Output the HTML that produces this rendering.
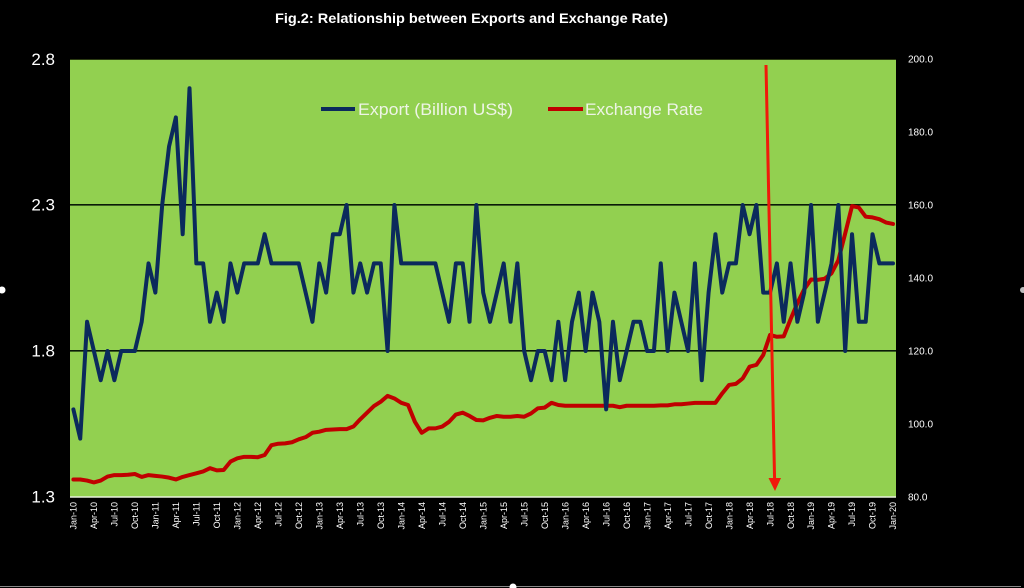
<!DOCTYPE html>
<html><head><meta charset="utf-8"><style>
html,body{margin:0;padding:0;background:#000;}
svg{display:block;}
</style></head><body>
<svg width="1024" height="588" viewBox="0 0 1024 588" xmlns="http://www.w3.org/2000/svg">
<rect x="0" y="0" width="1024" height="588" fill="#000"/>
<!-- title -->
<text x="275" y="23" fill="#ffffff" font-family="Liberation Sans, sans-serif" font-weight="bold" font-size="14" textLength="393" lengthAdjust="spacingAndGlyphs">Fig.2: Relationship between Exports and Exchange Rate)</text>
<!-- plot area -->
<rect x="70" y="59" width="826" height="438" fill="#92d050"/>
<line x1="70" y1="59.5" x2="896" y2="59.5" stroke="#2a3a10" stroke-width="1"/>
<line x1="70" y1="497" x2="896" y2="497" stroke="#e8f0dc" stroke-width="1.5"/>
<line x1="70" y1="204.8" x2="896" y2="204.8" stroke="#0a1a08" stroke-width="1.6"/>
<line x1="70" y1="350.8" x2="896" y2="350.8" stroke="#0a1a08" stroke-width="1.6"/>
<!-- left axis labels -->
<g font-family="Liberation Sans, sans-serif" font-size="17" fill="#ffffff" text-anchor="end">
<text x="55" y="65">2.8</text>
<text x="55" y="210.5">2.3</text>
<text x="55" y="356.5">1.8</text>
<text x="55" y="502.5">1.3</text>
</g>
<!-- right axis labels -->
<g font-family="Liberation Sans, sans-serif" font-size="10" fill="#ffffff">
<text x="908" y="62.5">200.0</text>
<text x="908" y="135.5">180.0</text>
<text x="908" y="208.5">160.0</text>
<text x="908" y="281.5">140.0</text>
<text x="908" y="354.5">120.0</text>
<text x="908" y="427.5">100.0</text>
<text x="908" y="500.5">80.0</text>
</g>
<!-- exchange rate series -->
<polyline transform="matrix(6.83,0,0,-3.65,73.4,789)" vector-effect="non-scaling-stroke" fill="none" stroke="#c00000" stroke-width="4" stroke-linejoin="round" stroke-linecap="round"
points="0,84.8 1,84.8 2,84.5 3,84.0 4,84.5 5,85.6 6,86 7,86 8,86.1 9,86.3 10,85.5 11,86 12,85.8 13,85.6 14,85.3 15,84.8 16,85.5 17,86 18,86.5 19,87 20,87.9 21,87.3 22,87.4 23,89.7 24,90.6 25,91 26,91 27,90.9 28,91.5 29,94.2 30,94.6 31,94.7 32,95 33,95.8 34,96.4 35,97.6 36,97.9 37,98.4 38,98.5 39,98.6 40,98.6 41,99.3 42,101.3 43,103.1 44,104.9 45,106.1 46,107.7 47,107 48,105.8 49,105.2 50,100.6 51,97.6 52,98.8 53,98.8 54,99.3 55,100.6 56,102.6 57,103.1 58,102.2 59,101.1 60,101.0 61,101.7 62,102.2 63,102.0 64,102.0 65,102.2 66,102 67,102.9 68,104.3 69,104.5 70,105.8 71,105.2 72,105 73,105 74,105 75,105 76,105 77,105 78,105 79,105 80,104.6 81,105 82,105 83,105 84,105 85,105 86,105.1 87,105.1 88,105.4 89,105.4 90,105.6 91,105.8 92,105.8 93,105.8 94,105.8 95,108.4 96,110.7 97,111 98,112.5 99,115.7 100,116.2 101,118.9 102,124.4 103,123.9 104,124 105,128.7 106,133.1 107,136.9 108,139.6 109,139.5 110,139.8 111,141.3 112,144.9 113,152.2 114,159.7 115,159.3 116,156.8 117,156.6 118,156.1 119,155.2 120,154.8"/>
<!-- export series -->
<polyline transform="matrix(6.83,0,0,-292,73.4,876.6)" vector-effect="non-scaling-stroke" fill="none" stroke="#0b2a5c" stroke-width="4" stroke-linejoin="round" stroke-linecap="round"
points="0,1.6 1,1.5 2,1.9 3,1.8 4,1.7 5,1.8 6,1.7 7,1.8 8,1.8 9,1.8 10,1.9 11,2.1 12,2.0 13,2.3 14,2.5 15,2.6 16,2.2 17,2.7 18,2.1 19,2.1 20,1.9 21,2.0 22,1.9 23,2.1 24,2.0 25,2.1 26,2.1 27,2.1 28,2.2 29,2.1 30,2.1 31,2.1 32,2.1 33,2.1 34,2.0 35,1.9 36,2.1 37,2.0 38,2.2 39,2.2 40,2.3 41,2.0 42,2.1 43,2.0 44,2.1 45,2.1 46,1.8 47,2.3 48,2.1 49,2.1 50,2.1 51,2.1 52,2.1 53,2.1 54,2.0 55,1.9 56,2.1 57,2.1 58,1.9 59,2.3 60,2.0 61,1.9 62,2.0 63,2.1 64,1.9 65,2.1 66,1.8 67,1.7 68,1.8 69,1.8 70,1.7 71,1.9 72,1.7 73,1.9 74,2.0 75,1.8 76,2.0 77,1.9 78,1.6 79,1.9 80,1.7 81,1.8 82,1.9 83,1.9 84,1.8 85,1.8 86,2.1 87,1.8 88,2.0 89,1.9 90,1.8 91,2.1 92,1.7 93,2.0 94,2.2 95,2.0 96,2.1 97,2.1 98,2.3 99,2.2 100,2.3 101,2.0 102,2.0 103,2.1 104,1.9 105,2.1 106,1.9 107,2.0 108,2.3 109,1.9 110,2.0 111,2.1 112,2.3 113,1.8 114,2.2 115,1.9 116,1.9 117,2.2 118,2.1 119,2.1 120,2.1"/>
<!-- red arrow -->
<line x1="766" y1="65" x2="774.6" y2="480" stroke="#f0190a" stroke-width="3"/>
<polygon points="768.5,478 781,478 775,491" fill="#f0190a"/>
<!-- legend -->
<line x1="321" y1="109" x2="355" y2="109" stroke="#0b2a5c" stroke-width="4"/>
<text x="358" y="115" fill="#eef4e6" font-family="Liberation Sans, sans-serif" font-size="17" textLength="155" lengthAdjust="spacingAndGlyphs">Export (Billion US$)</text>
<line x1="548" y1="109" x2="583" y2="109" stroke="#c00000" stroke-width="4"/>
<text x="585" y="115" fill="#eef4e6" font-family="Liberation Sans, sans-serif" font-size="17" textLength="118" lengthAdjust="spacingAndGlyphs">Exchange Rate</text>
<!-- x axis labels -->
<g font-family="Liberation Sans, sans-serif" font-size="9" fill="#ffffff" text-anchor="end">
<text transform="translate(73.4,502) rotate(-90)" dy="0.35em">Jan-10</text>
<text transform="translate(93.9,502) rotate(-90)" dy="0.35em">Apr-10</text>
<text transform="translate(114.4,502) rotate(-90)" dy="0.35em">Jul-10</text>
<text transform="translate(134.9,502) rotate(-90)" dy="0.35em">Oct-10</text>
<text transform="translate(155.4,502) rotate(-90)" dy="0.35em">Jan-11</text>
<text transform="translate(175.9,502) rotate(-90)" dy="0.35em">Apr-11</text>
<text transform="translate(196.3,502) rotate(-90)" dy="0.35em">Jul-11</text>
<text transform="translate(216.8,502) rotate(-90)" dy="0.35em">Oct-11</text>
<text transform="translate(237.3,502) rotate(-90)" dy="0.35em">Jan-12</text>
<text transform="translate(257.8,502) rotate(-90)" dy="0.35em">Apr-12</text>
<text transform="translate(278.3,502) rotate(-90)" dy="0.35em">Jul-12</text>
<text transform="translate(298.8,502) rotate(-90)" dy="0.35em">Oct-12</text>
<text transform="translate(319.3,502) rotate(-90)" dy="0.35em">Jan-13</text>
<text transform="translate(339.8,502) rotate(-90)" dy="0.35em">Apr-13</text>
<text transform="translate(360.3,502) rotate(-90)" dy="0.35em">Jul-13</text>
<text transform="translate(380.8,502) rotate(-90)" dy="0.35em">Oct-13</text>
<text transform="translate(401.2,502) rotate(-90)" dy="0.35em">Jan-14</text>
<text transform="translate(421.7,502) rotate(-90)" dy="0.35em">Apr-14</text>
<text transform="translate(442.2,502) rotate(-90)" dy="0.35em">Jul-14</text>
<text transform="translate(462.7,502) rotate(-90)" dy="0.35em">Oct-14</text>
<text transform="translate(483.2,502) rotate(-90)" dy="0.35em">Jan-15</text>
<text transform="translate(503.7,502) rotate(-90)" dy="0.35em">Apr-15</text>
<text transform="translate(524.2,502) rotate(-90)" dy="0.35em">Jul-15</text>
<text transform="translate(544.7,502) rotate(-90)" dy="0.35em">Oct-15</text>
<text transform="translate(565.2,502) rotate(-90)" dy="0.35em">Jan-16</text>
<text transform="translate(585.7,502) rotate(-90)" dy="0.35em">Apr-16</text>
<text transform="translate(606.1,502) rotate(-90)" dy="0.35em">Jul-16</text>
<text transform="translate(626.6,502) rotate(-90)" dy="0.35em">Oct-16</text>
<text transform="translate(647.1,502) rotate(-90)" dy="0.35em">Jan-17</text>
<text transform="translate(667.6,502) rotate(-90)" dy="0.35em">Apr-17</text>
<text transform="translate(688.1,502) rotate(-90)" dy="0.35em">Jul-17</text>
<text transform="translate(708.6,502) rotate(-90)" dy="0.35em">Oct-17</text>
<text transform="translate(729.1,502) rotate(-90)" dy="0.35em">Jan-18</text>
<text transform="translate(749.6,502) rotate(-90)" dy="0.35em">Apr-18</text>
<text transform="translate(770.1,502) rotate(-90)" dy="0.35em">Jul-18</text>
<text transform="translate(790.6,502) rotate(-90)" dy="0.35em">Oct-18</text>
<text transform="translate(811.0,502) rotate(-90)" dy="0.35em">Jan-19</text>
<text transform="translate(831.5,502) rotate(-90)" dy="0.35em">Apr-19</text>
<text transform="translate(852.0,502) rotate(-90)" dy="0.35em">Jul-19</text>
<text transform="translate(872.5,502) rotate(-90)" dy="0.35em">Oct-19</text>
<text transform="translate(893.0,502) rotate(-90)" dy="0.35em">Jan-20</text>
</g>
<!-- frame artifacts -->
<line x1="0" y1="586.5" x2="1021" y2="586.5" stroke="#8a8a8a" stroke-width="1"/>
<circle cx="2" cy="290" r="3.5" fill="#ffffff"/>
<circle cx="1023" cy="290" r="3" fill="#bdbdbd"/>
<circle cx="513" cy="587" r="3.5" fill="#ffffff"/>
</svg>
</body></html>
